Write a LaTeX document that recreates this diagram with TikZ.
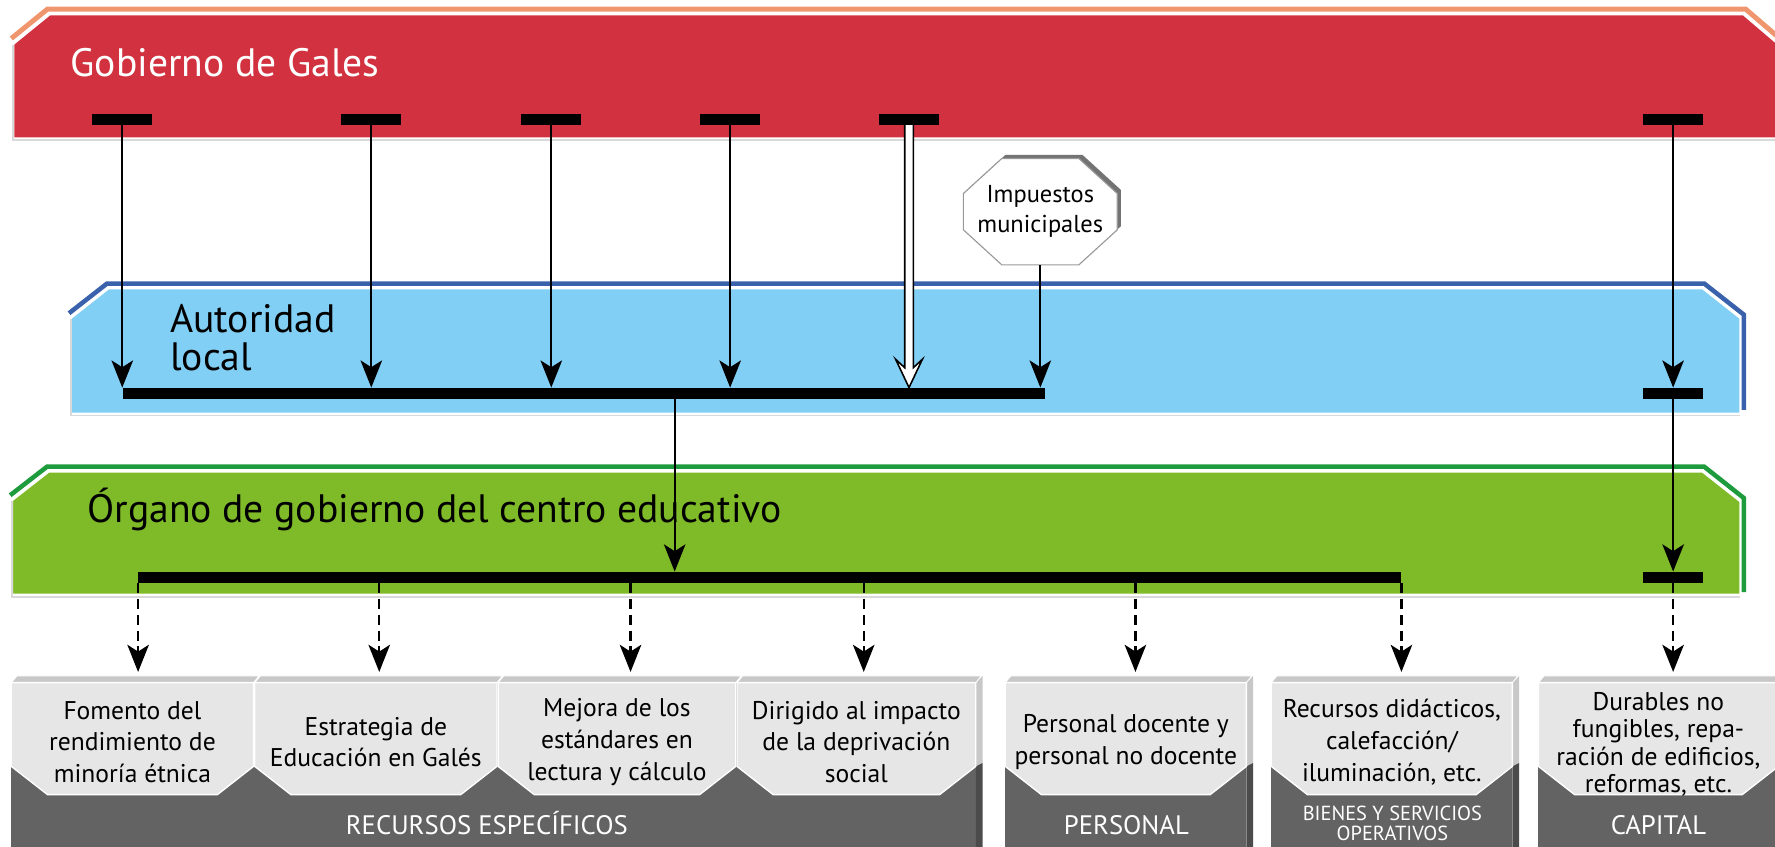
\documentclass[tikz,border=0pt]{standalone}
\usepackage{fontspec}
\setmainfont{PT Sans}
\usetikzlibrary{
    arrows.meta,
    positioning,
    calc,
}
\definecolor{redband}{RGB}{210,50,63}
\definecolor{redline}{RGB}{240,150,110}
\definecolor{blueband}{RGB}{130,207,245}
\definecolor{blueline}{RGB}{58,98,172}
\definecolor{greenband}{RGB}{127,186,40}
\definecolor{greenline}{RGB}{30,155,60}
\definecolor{facegray}{RGB}{230,230,230}
\definecolor{stripgray}{RGB}{200,200,200}
\definecolor{basegray}{RGB}{99,99,99}
\definecolor{sidegray}{RGB}{75,75,75}

\begin{document}
\begin{tikzpicture}[
        x=0.5pt, y=-0.5pt,
        bar/.style={fill=black, inner sep=0pt, minimum width=26.5pt, minimum height=4.7pt},
        longbar/.style={fill=black, inner sep=0pt, minimum height=4.7pt},
        arr/.style={line width=1pt, -{Stealth[length=12pt, width=9.5pt, inset=3pt]}},
        darr/.style={arr, dash pattern=on 4.5pt off 2.5pt, shorten >=6pt},
        bandtext/.style={inner sep=0pt, font=\fontsize{17.5}{17}\selectfont},
        imtext/.style={inner sep=0pt, minimum width=68pt, minimum height=47pt, align=center,
            font=\fontsize{10.8}{13.2}\selectfont},
        panel/.style={inner sep=0pt, minimum height=49.5pt, align=center,
            font=\fontsize{11.3}{14}\selectfont},
        basetext/.style={inner sep=0pt, text=white, align=center, font=\fontsize{11.8}{12}\selectfont},
    ]
    \useasboundingbox (0,0) rectangle (1568,748);

    % Gobierno de Gales
    \draw[redline, line width=2.2pt] (10,34) -- (42,8) -- (1542,8) -- (1578,39);
    \fill[redband, draw=white, line width=0.6pt] (12,122) -- (12,39) -- (44,13) -- (1540,13) -- (1574,42) -- (1574,122) -- cycle;
    \draw[black!15, line width=0.8pt] (11.5,40) -- (11.5,124) -- (1568,124);
    \node[bandtext, text=white, anchor=base west] (gw) at (62,68) {Gobierno de Gales};

    % Autoridad local
    \draw[blueline, line width=2pt] (61,276.7) -- (94.5,250.5) -- (1505.5,250.5) -- (1540.5,278) -- (1540.5,362);
    \fill[blueband, draw=white, line width=0.6pt] (63,365) -- (63,281) -- (96,255) -- (1504,255) -- (1537,281) -- (1537,365) -- cycle;
    \draw[black!15, line width=0.8pt] (62.5,282) -- (62.5,367) -- (1537,367);
    \node[bandtext, anchor=west, align=left] (la) at (150,298.5) {Autoridad\\local};

    % Organo de gobierno
    \draw[greenline, line width=2pt] (9,437.5) -- (41.5,412.3) -- (1505.5,412.3) -- (1540.5,440) -- (1540.5,523);
    \fill[greenband, draw=white, line width=0.6pt] (11,525) -- (11,442) -- (43,417) -- (1504,417) -- (1537,443) -- (1537,525) -- cycle;
    \draw[black!15, line width=0.8pt] (10.5,443) -- (10.5,527.5) -- (1537,527.5);
    \node[bandtext, anchor=base west] (og) at (77,462) {Órgano de gobierno del centro educativo};

    % bottom boxes
    \fill[basegray] (10,603) rectangle (862,760);
    \fill[basegray] (888,603) rectangle (1101,760);
    \fill[basegray] (1123,603) rectangle (1336,760);
    \fill[basegray] (1359,603) rectangle (1580,760);
    \foreach \xb in {862, 1101, 1336} {
        \fill[stripgray] (\xb,603) -- (\xb+6,597) -- (\xb+6,674) -- (\xb,677) -- cycle;
        \fill[sidegray] (\xb,677) -- (\xb+6,674) -- (\xb+6,760) -- (\xb,760) -- cycle;
    }
    \foreach \xa/\xb in {10/224, 225/439, 440/650, 651/862, 888/1101, 1123/1336, 1359/1571} {
        \fill[stripgray, draw=white, line width=0.4pt] (\xa,603) -- (\xa+5,597) -- (\xb+5,597) -- (\xb,603) -- cycle;
        \fill[facegray, draw=white, line width=0.6pt] (\xa,603) -- (\xb,603) -- (\xb,677) -- (\xb-32,702) -- (\xa+32,702) -- (\xa,677) -- cycle;
    }
    \node[panel, minimum width=107pt] (p1) at (117,655.5) {Fomento del\\rendimiento de\\minoría étnica};
    \node[panel, minimum width=107pt] (p2) at (332,655.5) {Estrategia de\\Educación en Galés};
    \node[panel, minimum width=105pt] (p3) at (545,655.5) {Mejora de los\\estándares en\\lectura y cálculo};
    \node[panel, minimum width=105pt] (p4) at (756.5,655.5) {Dirigido al impacto\\de la deprivación\\social};
    \node[panel, minimum width=106pt] (pe) at (994.5,655.5) {Personal docente y\\personal no docente};
    \node[panel, minimum width=106pt] (bs) at (1229.5,655.5) {Recursos didácticos,\\calefacción/\\iluminación, etc.};
    \node[panel, minimum width=106pt, font=\fontsize{11.3}{12}\selectfont] (ca) at (1465,657.5) {Durables no\\fungibles, repa-\\ración de edificios,\\reformas, etc.};

    \node[basetext, anchor=base] (lre) at (430,737.6) {RECURSOS ESPECÍFICOS};
    \node[basetext, anchor=base] (lpe) at (995,737.6) {PERSONAL};
    \node[basetext, font=\fontsize{9}{8.8}\selectfont] (lbs) at (1230,727.3) {BIENES Y SERVICIOS\\OPERATIVOS};
    \node[basetext, anchor=base] (lca) at (1465,737.6) {CAPITAL};

    % Impuestos municipales
    \coordinate (imc) at (919,187);
    \fill[black!55, shift={(imc)}, xshift=1.6pt, yshift=1.6pt] (-34,-47) -- (34,-47) -- (68,-16) -- (68,16) -- (34,47) -- (-34,47) -- (-68,16) -- (-68,-16) -- cycle;
    \filldraw[fill=white, draw=black!40, line width=0.5pt, shift={(imc)}] (-34,-47) -- (34,-47) -- (68,-16) -- (68,16) -- (34,47) -- (-34,47) -- (-68,16) -- (-68,-16) -- cycle;
    \node[imtext] (im) at (imc) {Impuestos\\municipales};

    % bars
    \node[bar] (wg1) at (108,105.5) {};
    \node[bar] (wg2) at (328,105.5) {};
    \node[bar] (wg3) at (487,105.5) {};
    \node[bar] (wg4) at (645,105.5) {};
    \node[bar] (wg5) at (803,105.5) {};
    \node[bar] (wg6) at (1478,105.5) {};
    \node[longbar, minimum width=407pt] (lbar) at (516,347.5) {};
    \node[bar] (lb2) at (1478,347.5) {};
    \node[longbar, minimum width=558pt] (gbar) at (680,510) {};
    \node[bar] (gb2) at (1478,510) {};

    % arrows
    \foreach \n in {wg1, wg2, wg3, wg4}
        \draw[arr] (\n.south) -- (\n |- lbar.north);
    \draw[arr] (im.south) -- (im |- lbar.north);
    \draw[arr] (wg6.south) -- (lb2.north);
    \draw[arr] (lb2.south) -- (gb2.north);
    \coordinate (lgs) at ([xshift=40pt]lbar.south);
    \draw[arr] (lgs) -- (lgs |- gbar.north);
    \coordinate (wt) at (wg5 |- lbar.north);
    \filldraw[fill=white, line width=0.7pt] ([xshift=-1.9pt]wg5.south) -- ([xshift=-1.9pt, yshift=8.8pt]wt)
        -- ([xshift=-5.9pt, yshift=12.5pt]wt) -- (wt) -- ([xshift=5.9pt, yshift=12.5pt]wt)
        -- ([xshift=1.9pt, yshift=8.8pt]wt) -- ([xshift=1.9pt]wg5.south);
    \foreach \x/\p in {122/p1, 335/p2, 557/p3, 763/p4, 1003/pe, 1238/bs}
        \draw[darr] (gbar.south -| \x,0) -- (\p.north -| \x,0);
    \draw[darr, shorten >=7pt] (gb2.south) -- (gb2 |- ca.north);
\end{tikzpicture}
\end{document}
